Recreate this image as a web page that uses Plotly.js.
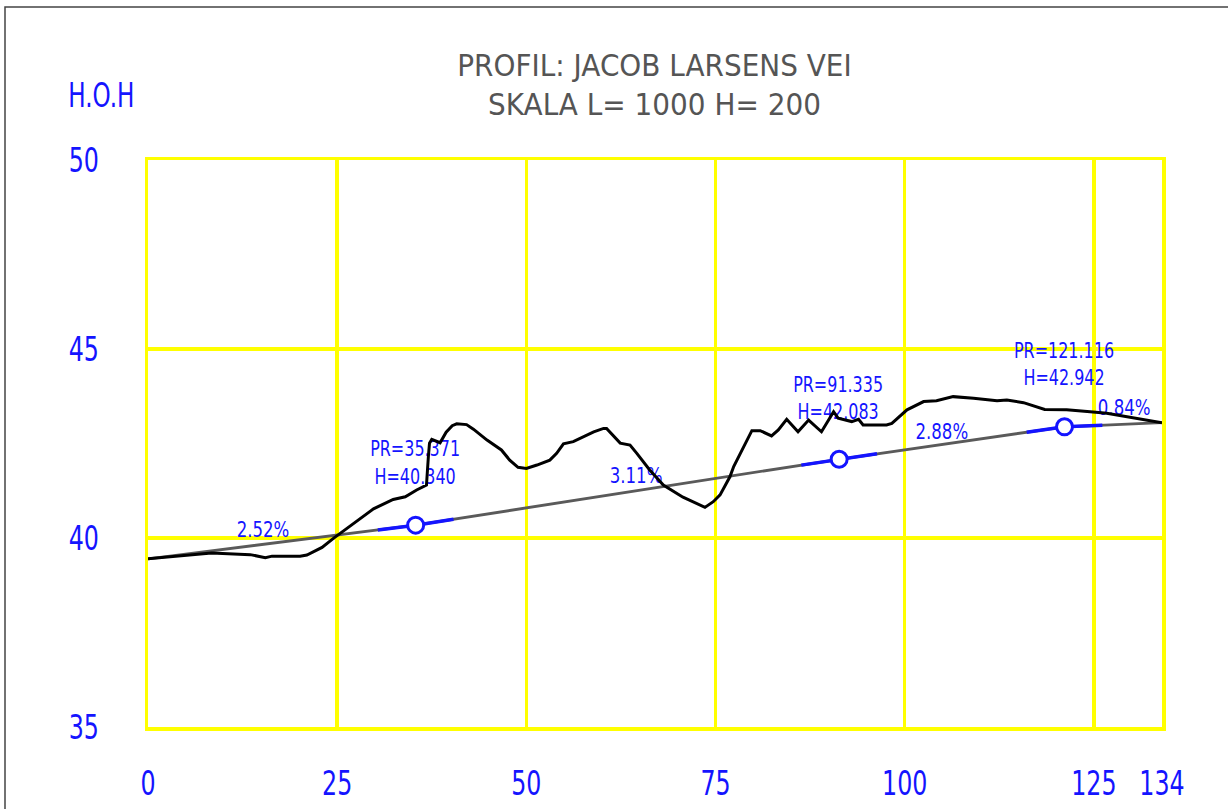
<!DOCTYPE html>
<html>
<head>
<meta charset="utf-8">
<script src="https://cdn.plot.ly/plotly-3.0.1.min.js"></script>
<style>
  html, body { margin: 0; padding: 0; background: #fff; }
  #chart { width: 1228px; height: 809px; }
</style>
</head>
<body>
<div id="chart"></div>
<script>
// ---- Data ----
// Terrain profile (chainage in m, elevation H.O.H)
const terrainX = [0, 8.4, 13.5, 14.4, 15.5, 16.4, 20.1, 21.0, 23.0, 24.5, 25.4, 27.6, 29.8, 32.4, 34.0, 35.5, 36.8, 37.05, 37.2, 37.5, 38.6, 39.4, 40.2, 40.8, 42.1, 43.0, 44.8, 46.7, 47.8, 48.9, 50.0, 51.4, 53.1, 54.0, 54.9, 56.2, 57.5, 58.9, 60.2, 60.6, 62.4, 63.7, 64.6, 66.3, 68.1, 70.7, 73.6, 74.7, 75.6, 76.9, 77.4, 78.9, 79.8, 80.9, 82.4, 83.3, 84.4, 85.9, 87.3, 89.0, 90.6, 91.2, 93.0, 93.9, 94.5, 97.6, 98.3, 100.3, 102.5, 104.2, 106.4, 109.1, 112.2, 113.5, 115.7, 118.5, 121.4, 124.5, 126.7, 134];
const terrainH = [39.45, 39.60, 39.56, 39.52, 39.48, 39.52, 39.52, 39.55, 39.75, 39.99, 40.12, 40.46, 40.77, 41.02, 41.09, 41.27, 41.40, 42.15, 42.51, 42.61, 42.52, 42.80, 42.97, 43.02, 43.00, 42.88, 42.59, 42.33, 42.06, 41.87, 41.84, 41.93, 42.06, 42.24, 42.49, 42.55, 42.68, 42.81, 42.90, 42.90, 42.51, 42.46, 42.24, 41.80, 41.40, 41.08, 40.81, 40.96, 41.14, 41.62, 41.89, 42.51, 42.84, 42.84, 42.70, 42.86, 43.14, 42.81, 43.12, 42.81, 43.34, 43.17, 43.08, 43.14, 42.99, 42.99, 43.03, 43.39, 43.61, 43.63, 43.74, 43.70, 43.63, 43.65, 43.58, 43.40, 43.39, 43.34, 43.30, 43.05];

// Design grade line (vertices)
const designX = [0, 35.371, 91.335, 121.116, 134];
const designH = [39.449, 40.340, 42.083, 42.942, 43.050];

// Vertical curve points (PR / H) and tangent segments
const vpX = [35.371, 91.335, 121.116];
const vpH = [40.340, 42.083, 42.942];
const tan1X = [30.371, 35.371, 40.371], tan1H = [40.214, 40.340, 40.496];
const tan2X = [86.335, 91.335, 96.335], tan2H = [41.928, 42.083, 42.227];
const tan3X = [116.116, 121.116, 126.116], tan3H = [42.798, 42.942, 42.984];

// Text labels
const gradeText = ["2.52%", "3.11%", "2.88%", "0.84%"];
const gradeX = [15.2, 64.5, 104.9, 129.0];
const gradeY = [40.16, 41.60, 42.76, 43.40];
const vpText = ["PR=35.371<br>H=40.340", "PR=91.335<br>H=42.083", "PR=121.116<br>H=42.942"];
const vpLabelX = [35.3, 91.2, 121.05];
const vpLabelY = [41.94, 43.65, 44.55];

// Axis ticks
const xTicks = [0, 25, 50, 75, 100, 125, 134];
const yTicks = [35, 40, 45, 50];

// ---- Styles ----
const FONT = "DejaVu Sans, sans-serif";
const BLUE = "#1414ff";
const YEL = "#ffff00";

const traces = [
  { x: gradeX, y: gradeY, text: gradeText, mode: "text", type: "scatter",
    textfont: { family: FONT, size: 21, color: BLUE }, hoverinfo: "skip", showlegend: false },
  { x: vpLabelX, y: vpLabelY, text: vpText, mode: "text", type: "scatter",
    textfont: { family: FONT, size: 21, color: BLUE }, hoverinfo: "skip", showlegend: false },
  { x: designX, y: designH, mode: "lines", type: "scatter",
    line: { color: "#5a5a5a", width: 2.8 }, showlegend: false },
  { x: terrainX, y: terrainH, mode: "lines", type: "scatter",
    line: { color: "#000000", width: 3 }, showlegend: false },
  { x: tan1X, y: tan1H, mode: "lines", type: "scatter", line: { color: BLUE, width: 3.5 }, showlegend: false },
  { x: tan2X, y: tan2H, mode: "lines", type: "scatter", line: { color: BLUE, width: 3.5 }, showlegend: false },
  { x: tan3X, y: tan3H, mode: "lines", type: "scatter", line: { color: BLUE, width: 3.5 }, showlegend: false },
  { x: vpX, y: vpH, mode: "markers", type: "scatter",
    marker: { size: 16, color: "#ffffff", line: { color: BLUE, width: 3 } }, showlegend: false }
];

const layout = {
  width: 1228, height: 809,
  paper_bgcolor: "#ffffff", plot_bgcolor: "#ffffff",
  margin: { l: 148, r: 66, t: 160, b: 82, pad: 0 },
  showlegend: false,
  title: {
    text: "PROFIL: JACOB LARSENS VEI<br>SKALA L= 1000 H= 200",
    font: { family: FONT, size: 30, color: "#555555" },
    x: 0.533, xanchor: "center", xref: "container",
    y: 1 - 76 / 809, yanchor: "middle", yref: "container"
  },
  xaxis: {
    range: [0, 134], tickvals: xTicks, ticktext: xTicks.map(String),
    showgrid: true, gridcolor: YEL, gridwidth: 3.5, zeroline: false,
    showline: true, mirror: true, linecolor: YEL, linewidth: 3.5,
    ticks: "", ticklabelstandoff: 25, automargin: false,
    tickfont: { family: FONT, size: 33, color: BLUE }, fixedrange: true
  },
  yaxis: {
    range: [35, 50], tickvals: yTicks, ticktext: yTicks.map(String),
    showgrid: true, gridcolor: YEL, gridwidth: 3.5, zeroline: false,
    showline: true, mirror: true, linecolor: YEL, linewidth: 3.5,
    ticks: "", ticklabelstandoff: 39, automargin: false,
    tickfont: { family: FONT, size: 33, color: BLUE }, fixedrange: true
  },
  annotations: [
    { text: "H.O.H", xref: "paper", yref: "paper",
      x: (101.5 - 148) / 1014, y: (727 - 95) / 567, xanchor: "center", yanchor: "middle",
      showarrow: false, font: { family: FONT, size: 33, color: BLUE } }
  ],
  shapes: [
    { type: "rect", xref: "paper", yref: "paper",
      x0: (5 - 148) / 1014, x1: (1260 - 148) / 1014,
      y0: (727 - 840) / 567, y1: (727 - 7) / 567,
      line: { color: "#444444", width: 1.5 }, layer: "below" }
  ]
};

// Horizontally condense text (the reference uses a narrow CAD font)
function squeeze(selector, factor) {
  document.querySelectorAll(selector).forEach(function (t) {
    const spans = t.querySelectorAll("tspan.line");
    const targets = spans.length ? Array.from(spans) : [t];
    targets.forEach(function (el) {
      try {
        const w = el.getComputedTextLength();
        if (w > 0) {
          el.setAttribute("textLength", (w * factor).toFixed(2));
          el.setAttribute("lengthAdjust", "spacingAndGlyphs");
        }
      } catch (e) {}
    });
  });
}

Plotly.newPlot("chart", traces, layout, { displayModeBar: false, staticPlot: true }).then(function () {
  squeeze("#chart .xtick text", 0.72);
  squeeze("#chart .ytick text", 0.72);
  squeeze("#chart .annotation-text", 0.70);
  squeeze("#chart .gtitle", 0.93);
  const tp = document.querySelectorAll("#chart .scatterlayer .trace");
  if (tp.length > 1) {
    tp[0].querySelectorAll(".textpoint text").forEach(function (t) {
      const w = t.getComputedTextLength();
      t.setAttribute("textLength", (w * 0.79).toFixed(2));
      t.setAttribute("lengthAdjust", "spacingAndGlyphs");
    });
    tp[1].querySelectorAll(".textpoint text tspan.line").forEach(function (t) {
      const w = t.getComputedTextLength();
      t.setAttribute("textLength", (w * 0.76).toFixed(2));
      t.setAttribute("lengthAdjust", "spacingAndGlyphs");
    });
  }
});
</script>
</body>
</html>
